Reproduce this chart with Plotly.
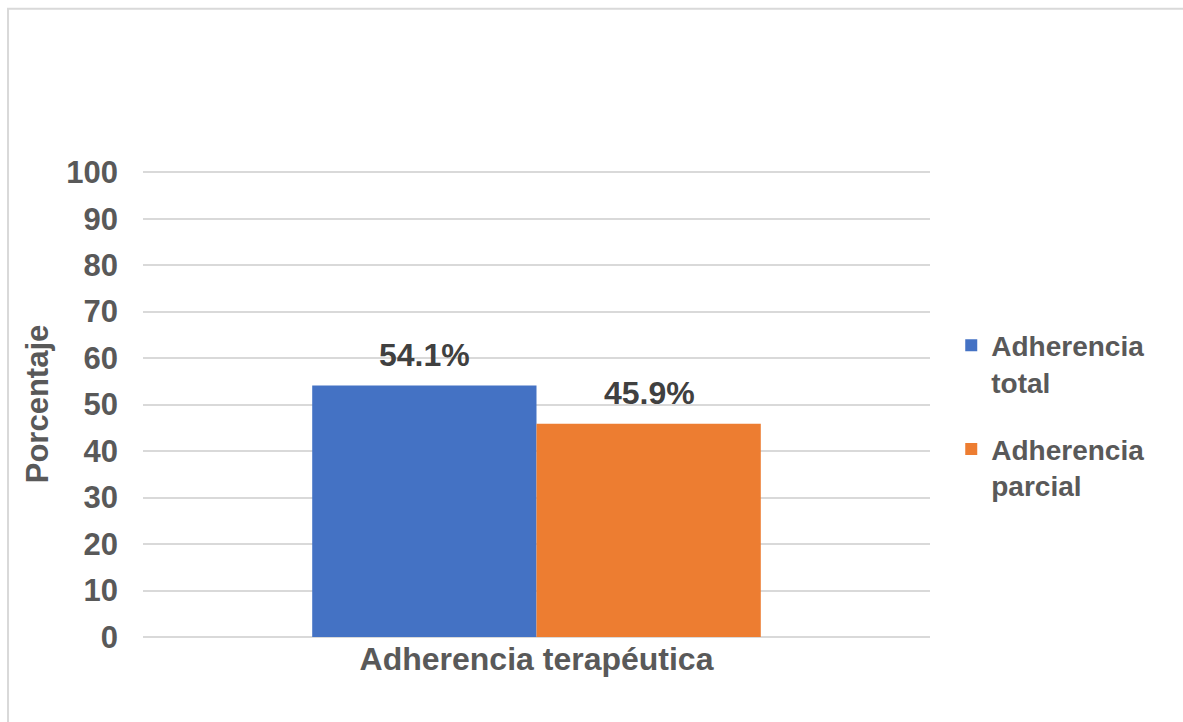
import plotly.graph_objects as go

# Chart data
categories = ["Adherencia terapéutica"]
series_names = ["Adherencia<br>total", "Adherencia<br>parcial"]
series_values = [[54.1], [45.9]]
series_colors = ["#4472C4", "#ED7D31"]
y_ticks = [0, 10, 20, 30, 40, 50, 60, 70, 80, 90, 100]

FONT = "Liberation Sans, Arial, sans-serif"

fig = go.Figure()
for i, (name, vals, col) in enumerate(zip(series_names, series_values, series_colors)):
    fig.add_trace(go.Bar(
        x=categories, y=vals, name=name, marker_color=col,
        marker_line_width=0, legendgroup=f"g{i}",
    ))

# Value labels above the bars (one per series, offset to its bar slot)
n = len(series_values)
for i, vals in enumerate(series_values):
    for cat, v in zip(categories, vals):
        fig.add_annotation(
            x=cat, y=v, text=f"{v:.1f}%", showarrow=False,
            xref="x", yref="y", yanchor="bottom", yshift=11,
            xshift=(i - (n - 1) / 2) * 225,
            font=dict(family=FONT, size=32, color="#404040", weight="bold"),
        )

# Light gray frame around the whole chart
fig.add_shape(type="rect", xref="paper", yref="paper",
              x0=-0.1715, x1=1.33, y0=-0.2, y1=1.348,
              line=dict(color="#D9D9D9", width=2), fillcolor="rgba(0,0,0,0)", layer="below")

fig.update_layout(
    width=1183, height=722,
    margin=dict(l=143, r=253, t=171, b=85),
    paper_bgcolor="white", plot_bgcolor="white",
    barmode="group", bargap=0.43, bargroupgap=0,
    font=dict(family=FONT, color="#595959"),
    legend=dict(
        x=1.027, y=0.679, xanchor="left", yanchor="top",
        font=dict(family=FONT, size=28, color="#595959", weight="bold"),
        valign="top", traceorder="grouped", tracegroupgap=28,
        itemwidth=30,
    ),
    xaxis=dict(
        tickfont=dict(family=FONT, size=32, color="#595959", weight="bold"),
        showgrid=False, showline=False, ticks="",
    ),
    yaxis=dict(
        range=[0, 100.25], tickvals=y_ticks,
        tickfont=dict(family=FONT, size=31, color="#595959", weight="bold"),
        showgrid=True, gridcolor="#D9D9D9", gridwidth=2,
        zeroline=True, zerolinecolor="#D9D9D9", zerolinewidth=2,
        showline=False, ticks="", ticklabelstandoff=24,
        title=dict(text="Porcentaje", standoff=8,
                   font=dict(family=FONT, size=31, color="#595959", weight="bold")),
    ),
)

fig.write_html("out.html")
